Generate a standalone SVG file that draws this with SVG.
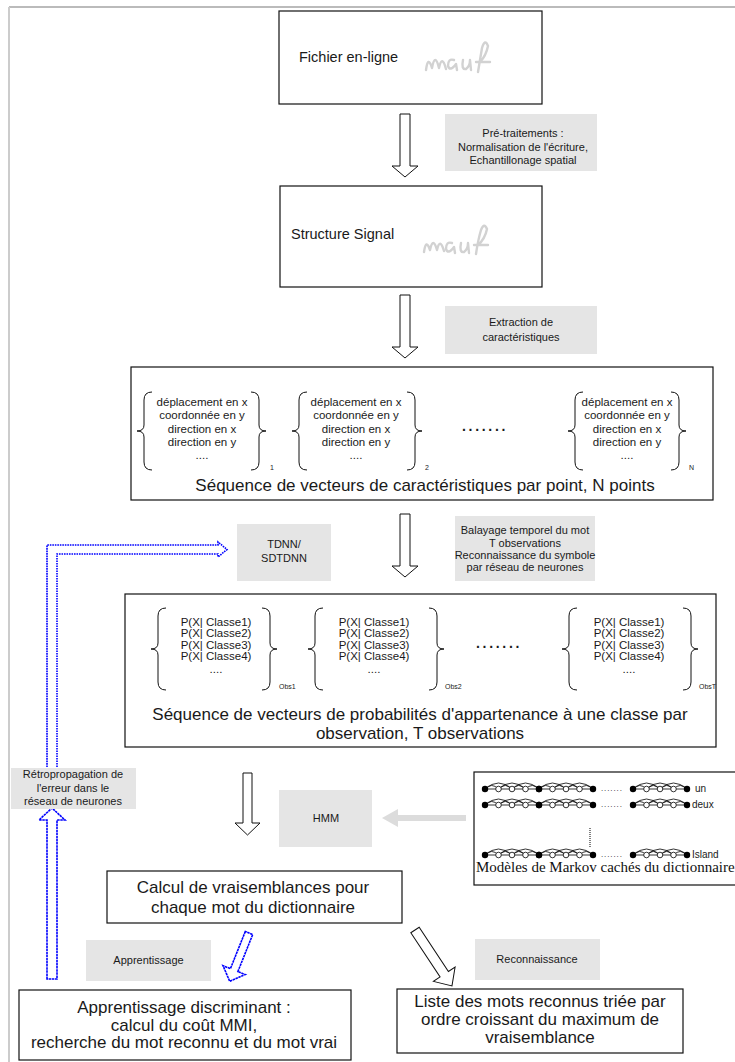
<svg xmlns="http://www.w3.org/2000/svg" width="735" height="1062" viewBox="0 0 735 1062">
<style>
.box{fill:#fff;stroke:#111;stroke-width:1.2}
.lbl{fill:#e5e5e5;stroke:none}
.t{font-family:"Liberation Sans",Arial,sans-serif;fill:#1a1a1a}
.big{font-size:17px;text-anchor:middle}
.mid{font-size:14.5px}
.sm{font-size:11px;text-anchor:middle}
.vec{font-size:11.5px;text-anchor:middle}
.sub{font-size:7px}
.br{fill:none;stroke:#111;stroke-width:1}
.harrow{fill:#fff;stroke:#111;stroke-width:1}
.blue{fill:none;stroke:#0000ff;stroke-width:1.6;stroke-dasharray:1.6 0.9}
.blues{fill:#fff;stroke:#0000ff;stroke-width:1.6;stroke-dasharray:2.5 0.6}
.hw{fill:none;stroke:#d2d2d2;stroke-width:2.4;stroke-linecap:round;stroke-linejoin:round}
.ch{fill:none;stroke:#000;stroke-width:0.8}
.oc{fill:#fff;stroke:#000;stroke-width:0.8}
.fc{fill:#000}
.serif{font-family:"Liberation Serif","Times New Roman",serif;font-size:15px;fill:#111}
</style>
<defs>
<path id="bl3" d="M15,0 Q7,0 7,8 L7,33 Q7,39 0,39 Q7,39 7,45 L7,70 Q7,78 15,78"/>
<path id="br3" d="M0,0 Q8,0 8,8 L8,33 Q8,39 15,39 Q8,39 8,45 L8,70 Q8,78 0,78"/>
<path id="bl4" d="M15,0 Q7,0 7,8 L7,35 Q7,41 0,41 Q7,41 7,47 L7,74 Q7,82 15,82"/>
<path id="br4" d="M0,0 Q8,0 8,8 L8,35 Q8,41 15,41 Q8,41 8,47 L8,74 Q8,82 0,82"/>
<g id="seg">
<path class="ch" d="M0,0 H54 M0,0 Q6.75,-7 13.5,0 M13.5,0 Q20.25,-7 27,0 M27,0 Q33.75,-7 40.5,0 M40.5,0 Q47.25,-7 54,0 M0,0 Q13.5,-12 27,0 M13.5,0 Q27,-12 40.5,0 M27,0 Q40.5,-12 54,0"/>
<circle class="oc" cx="13.5" cy="0" r="2.8"/>
<circle class="oc" cx="27" cy="0" r="2.8"/>
<circle class="oc" cx="40.5" cy="0" r="2.8"/>
<circle class="fc" cx="0" cy="0" r="3.2"/>
<circle class="fc" cx="54" cy="0" r="3.2"/>
</g>
<g id="row">
<use href="#seg" x="0"/>
<use href="#seg" x="54"/>
<text class="t" x="116" y="2" font-size="8" letter-spacing="0.9">.......</text>
<use href="#seg" x="148"/>
</g>
</defs>

<g id="frame">
<line x1="9" y1="7" x2="735" y2="7" stroke="#bbb" stroke-width="2"/>
<line x1="9" y1="7" x2="9" y2="1062" stroke="#ccc" stroke-width="2"/>
</g>

<g id="connectors">
<path class="harrow" d="M400,114 H410 V166 H418 L405,177 L392,166 H400 Z"/>
<path class="harrow" d="M400,295 H410 V347 H418 L405,358 L392,347 H400 Z"/>
<path class="harrow" d="M400,514 H410 V566 H418 L405,577 L392,566 H400 Z"/>
<path class="harrow" d="M243,773 H252 V823 H260 L247.5,835 L235,823 H243 Z"/>
<path class="blue" d="M57,767 V554 H218 V557 L227,549.5 L218,542 V545 H47 V767"/>
<path class="blues" d="M47,979 V820 H39 L52,808 L65,820 H57 V979 Z"/>
<path class="blues" d="M-4,0 V40 H-12 L0,52 L12,40 H4 V0 Z" transform="translate(249,933) rotate(21.8)"/>
<path class="harrow" d="M-5,0 V53 H-13 L0,67 L13,53 H5 V0 Z" transform="translate(415,930) rotate(-33.5)"/>
<polygon points="382,818 398,809 398,815 466,815 466,821 398,821 398,827" fill="#dcdcdc"/>
</g>

<g id="fichier">
<rect class="box" x="279" y="11" width="263" height="93"/>
<text class="t mid" x="299" y="62">Fichier en-ligne</text>
<path class="hw" d="M426,70 Q428,55 432,68 Q435,52 439,68 Q442,54 446,69 M454,60 Q448,58 448,66 Q450,72 456,64 L457,70 M463,60 Q461,70 466,69 Q470,66 470,60 L471,70 M478,72 Q480,60 482,48 Q485,38 488,46 Q486,56 480,62 M476,62 H490"/>
</g>

<g id="pretraitements">
<rect class="lbl" x="445" y="114" width="152" height="57"/>
<text class="t sm" x="523" y="137">Pré-traitements :</text>
<text class="t sm" x="523" y="151">Normalisation de l'écriture,</text>
<text class="t sm" x="523" y="164">Echantillonage spatial</text>
</g>

<g id="structure">
<rect class="box" x="280" y="186" width="262" height="101"/>
<text class="t mid" x="291" y="239">Structure Signal</text>
<path class="hw" d="M424,252 Q426,238 430,250 Q433,236 437,250 Q440,237 444,251 M452,243 Q446,241 446,249 Q448,255 454,247 L455,253 M461,243 Q459,253 464,252 Q468,249 468,243 L469,253 M476,254 Q478,240 481,230 Q484,222 487,229 Q485,239 478,245 M474,245 H488"/>
</g>

<g id="extraction">
<rect class="lbl" x="445" y="306" width="152" height="48"/>
<text class="t sm" x="521" y="326">Extraction de</text>
<text class="t sm" x="521" y="341">caractéristiques</text>
</g>

<g id="sequence-caracteristiques">
<rect class="box" x="131" y="367" width="582" height="133"/>
<use href="#bl3" class="br" x="137" y="392"/>
<use href="#br3" class="br" x="251" y="392"/>
<text class="t vec" x="202" y="406">déplacement en x</text>
<text class="t vec" x="202" y="419">coordonnée en y</text>
<text class="t vec" x="202" y="433">direction en x</text>
<text class="t vec" x="202" y="446">direction en y</text>
<text class="t vec" x="202" y="459">....</text>
<text class="t sub" x="270" y="470">1</text>
<use href="#bl3" class="br" x="292" y="392"/>
<use href="#br3" class="br" x="407" y="392"/>
<text class="t vec" x="356" y="406">déplacement en x</text>
<text class="t vec" x="356" y="419">coordonnée en y</text>
<text class="t vec" x="356" y="433">direction en x</text>
<text class="t vec" x="356" y="446">direction en y</text>
<text class="t vec" x="356" y="459">....</text>
<text class="t sub" x="425" y="470">2</text>
<text class="t" x="462" y="431" font-size="14" font-weight="bold" letter-spacing="2.7">.......</text>
<use href="#bl3" class="br" x="568" y="392"/>
<use href="#br3" class="br" x="671" y="392"/>
<text class="t vec" x="627" y="406">déplacement en x</text>
<text class="t vec" x="627" y="419">coordonnée en y</text>
<text class="t vec" x="627" y="433">direction en x</text>
<text class="t vec" x="627" y="446">direction en y</text>
<text class="t vec" x="627" y="459">....</text>
<text class="t sub" x="689" y="470">N</text>
<text class="t big" x="425" y="491" font-size="18">Séquence de vecteurs de caractéristiques par point, N points</text>
</g>

<g id="tdnn">
<rect class="lbl" x="237" y="524" width="94" height="57"/>
<text class="t sm" x="284" y="548">TDNN/</text>
<text class="t sm" x="284" y="562">SDTDNN</text>
</g>

<g id="balayage">
<rect class="lbl" x="455" y="516" width="140" height="65"/>
<text class="t sm" x="525" y="534">Balayage temporel du mot</text>
<text class="t sm" x="525" y="547">T observations</text>
<text class="t sm" x="525" y="559">Reconnaissance du symbole</text>
<text class="t sm" x="525" y="571">par réseau de neurones</text>
</g>

<g id="sequence-probabilites">
<rect class="box" x="125" y="594" width="591" height="153"/>
<use href="#bl4" class="br" x="151" y="608"/>
<use href="#br4" class="br" x="262" y="608"/>
<text class="t vec" x="216" y="626">P(X| Classe1)</text>
<text class="t vec" x="216" y="637">P(X| Classe2)</text>
<text class="t vec" x="216" y="649">P(X| Classe3)</text>
<text class="t vec" x="216" y="660">P(X| Classe4)</text>
<text class="t vec" x="216" y="673">....</text>
<text class="t sub" x="279" y="689">Obs1</text>
<use href="#bl4" class="br" x="308" y="608"/>
<use href="#br4" class="br" x="429" y="608"/>
<text class="t vec" x="374" y="626">P(X| Classe1)</text>
<text class="t vec" x="374" y="637">P(X| Classe2)</text>
<text class="t vec" x="374" y="649">P(X| Classe3)</text>
<text class="t vec" x="374" y="660">P(X| Classe4)</text>
<text class="t vec" x="374" y="673">....</text>
<text class="t sub" x="445" y="689">Obs2</text>
<text class="t" x="476" y="648" font-size="14" font-weight="bold" letter-spacing="2.7">.......</text>
<use href="#bl4" class="br" x="562" y="608"/>
<use href="#br4" class="br" x="683" y="608"/>
<text class="t vec" x="629" y="626">P(X| Classe1)</text>
<text class="t vec" x="629" y="637">P(X| Classe2)</text>
<text class="t vec" x="629" y="649">P(X| Classe3)</text>
<text class="t vec" x="629" y="660">P(X| Classe4)</text>
<text class="t vec" x="629" y="673">....</text>
<text class="t sub" x="699" y="689">ObsT</text>
<text class="t big" x="420" y="720">Séquence de vecteurs de probabilités d'appartenance à une classe par</text>
<text class="t big" x="420" y="739">observation, T observations</text>
</g>

<g id="retropropagation">
<rect class="lbl" x="11" y="768" width="125" height="41"/>
<text class="t sm" x="73" y="778">Rétropropagation de</text>
<text class="t sm" x="73" y="792">l'erreur dans le</text>
<text class="t sm" x="73" y="805">réseau de neurones</text>
</g>

<g id="hmm">
<rect class="lbl" x="279" y="790" width="93" height="57"/>
<text class="t sm" x="326" y="822">HMM</text>
</g>

<g id="modeles-markov">
<rect class="box" x="474" y="772" width="262" height="113"/>
<use href="#row" x="485" y="789"/>
<text class="t" x="695" y="792" font-size="10">un</text>
<use href="#row" x="485" y="805"/>
<text class="t" x="692" y="808" font-size="10">deux</text>
<line x1="590" y1="828" x2="590" y2="848" stroke="#000" stroke-width="1" stroke-dasharray="1 1"/>
<use href="#row" x="485" y="855"/>
<text class="t" x="692" y="858" font-size="10">Island</text>
<text class="serif" x="476" y="872">Modèles de Markov cachés du dictionnaire</text>
</g>

<g id="calcul">
<rect class="box" x="107" y="871" width="295" height="52"/>
<text class="t big" x="253" y="893">Calcul de vraisemblances pour</text>
<text class="t big" x="253" y="913">chaque mot du dictionnaire</text>
</g>

<g id="apprentissage">
<rect class="lbl" x="86" y="940" width="125" height="41"/>
<text class="t sm" x="148.5" y="964">Apprentissage</text>
</g>

<g id="reconnaissance">
<rect class="lbl" x="475" y="939" width="125" height="41"/>
<text class="t sm" x="537" y="963">Reconnaissance</text>
</g>

<g id="apprentissage-discriminant">
<rect class="box" x="19" y="990" width="332" height="70"/>
<text class="t big" x="184" y="1013">Apprentissage discriminant :</text>
<text class="t big" x="184" y="1031">calcul du coût MMI,</text>
<text class="t big" x="184" y="1048">recherche du mot reconnu et du mot vrai</text>
</g>

<g id="liste-mots">
<rect class="box" x="397" y="989" width="286" height="64"/>
<text class="t big" x="540" y="1007">Liste des mots reconnus triée par</text>
<text class="t big" x="540" y="1025">ordre croissant du maximum de</text>
<text class="t big" x="540" y="1043">vraisemblance</text>
</g>
</svg>
